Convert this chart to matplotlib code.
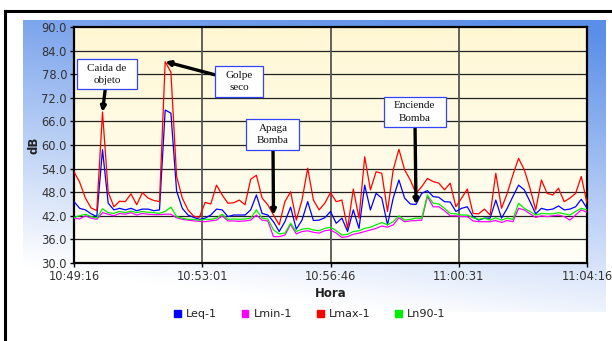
import numpy as np
import matplotlib.pyplot as plt
from matplotlib.path import Path
from matplotlib.patches import Patch
from matplotlib.lines import Line2D

plt.close('all')

# sample every 10 s from 10:49:16 to 11:04:16
t = np.arange(0, 910, 10)
tick_pos = [0, 225, 450, 675, 900]
tick_labels = ['10:49:16', '10:53:01', '10:56:46', '11:00:31', '11:04:16']

leq = [45.6, 43.9, 43.5, 42.5, 41.8, 58.8, 45.2, 43.5, 43.9, 43.5,
       43.9, 43.3, 43.7, 43.7, 43.3, 43.5, 68.9, 68.1, 48.3, 43.9,
       42.2, 41.6, 41.1, 41.4, 42.2, 43.7, 43.5, 41.8, 42.2, 42.2,
       42.2, 43.5, 47.3, 42.6, 42.2, 40.5, 38.0, 40.5, 44.2, 38.6,
       40.9, 45.6, 40.8, 40.9, 41.5, 43.1, 40.1, 41.4, 38.0, 43.5,
       38.8, 49.8, 43.5, 47.7, 46.5, 39.7, 46.5, 51.1, 46.5, 45.0,
       44.9, 47.7, 48.4, 46.9, 46.7, 45.6, 45.5, 43.1, 43.9, 44.3,
       41.8, 40.9, 41.4, 41.4, 46.0, 41.4, 43.9, 46.9, 49.8, 48.6,
       45.6, 42.5, 43.9, 43.5, 43.7, 44.5, 43.5, 43.7, 44.3, 46.2,
       43.9]
lmin = [41.4, 41.2, 42.0, 41.4, 41.1, 42.8, 42.4, 42.0, 42.6, 42.4,
        42.8, 42.2, 42.6, 42.4, 42.3, 42.3, 42.4, 42.4, 41.5, 41.1,
        40.9, 40.7, 40.6, 40.5, 40.7, 40.9, 42.0, 40.7, 40.7, 40.6,
        40.7, 40.9, 42.2, 40.9, 40.7, 36.7, 36.7, 37.1, 39.8, 37.4,
        38.0, 38.2, 37.8, 37.6, 38.2, 38.4, 37.6, 36.5, 36.7, 37.3,
        37.6, 38.0, 38.4, 38.8, 39.4, 39.1, 39.7, 41.5, 40.5, 40.7,
        40.8, 40.9, 46.9, 44.3, 44.3, 43.3, 42.0, 42.0, 41.8, 41.8,
        40.7, 40.5, 40.5, 40.5, 40.8, 40.3, 40.8, 40.5, 43.9, 43.5,
        42.5, 41.6, 42.0, 41.8, 42.0, 42.2, 41.8, 40.9, 42.2, 43.5,
        42.9]
lmax = [53.2, 50.5, 46.5, 44.0, 43.3, 68.4, 48.0, 44.3, 45.7, 45.6,
        47.6, 44.8, 47.9, 46.5, 45.9, 45.6, 81.2, 78.5, 52.0, 46.5,
        43.5, 41.9, 41.6, 45.4, 45.0, 49.8, 47.3, 45.2, 45.3, 46.0,
        44.8, 51.3, 52.3, 46.5, 44.8, 42.2, 39.7, 45.6, 48.1, 40.9,
        46.0, 54.1, 46.0, 43.5, 45.2, 47.9, 45.6, 46.0, 38.8, 48.8,
        41.4, 57.0, 48.6, 53.2, 52.8, 43.1, 53.7, 58.9, 53.7, 51.1,
        47.7, 49.4, 51.5, 50.7, 50.3, 48.6, 50.3, 44.3, 46.5, 48.8,
        42.6, 42.5, 43.7, 42.2, 52.8, 43.9, 47.7, 52.4, 56.6, 53.7,
        49.0, 43.5, 51.1, 47.7, 47.3, 49.0, 45.6, 46.5, 47.7, 52.0,
        45.2]
ln90 = [41.6, 42.0, 42.4, 41.8, 41.4, 43.8, 42.8, 42.6, 43.1, 42.8,
        43.2, 42.8, 43.1, 42.9, 42.8, 42.6, 43.1, 44.2, 41.8, 41.4,
        41.1, 41.1, 40.9, 41.1, 41.1, 41.4, 42.4, 41.1, 41.2, 41.1,
        41.2, 41.4, 43.5, 41.4, 41.2, 38.4, 37.4, 37.6, 40.1, 38.0,
        38.6, 38.8, 38.4, 38.2, 38.8, 39.1, 38.2, 37.1, 37.3, 38.0,
        38.2, 38.8, 39.1, 39.7, 40.3, 39.7, 40.5, 42.0, 40.9, 41.1,
        41.4, 41.4, 47.3, 45.2, 45.0, 43.9, 42.6, 42.5, 42.2, 42.2,
        41.5, 41.1, 41.4, 40.9, 41.5, 40.9, 41.4, 41.1, 45.2, 43.9,
        43.1, 42.2, 42.6, 42.5, 42.5, 42.8, 42.5, 42.2, 43.1, 43.9,
        43.5]

series_names = ['Leq-1', 'Lmin-1', 'Lmax-1', 'Ln90-1']
series_colors = ['#0000ff', '#ff00ff', '#ff0000', '#00ee00']

# notes: (text, series index, sample index, text position)
notes = [('Caida de\nobjeto', 2, 5, (58, 78.0)),
         ('Golpe\nseco', 2, 16, (290, 76.2)),
         ('Apaga\nBomba', 2, 35, (349, 62.7)),
         ('Enciende\nBomba', 0, 60, (598, 68.4))]

W, H = 612, 341
fig = plt.figure(figsize=(W / 100, H / 100), dpi=100)
fig.patch.set_facecolor('white')

# blue gradient panel behind the chart
bg = fig.add_axes([23 / W, 1 - 312 / H, 583 / W, 292 / H], zorder=0)
yy, xx = np.mgrid[0:1:200j, 0:1:200j]
w = np.clip(0.95 * yy + 0.25 * (1 - xx) - 0.05, 0, 1)[..., None]
blue = np.array([0.36, 0.56, 0.91])
bg.imshow(blue * (1 - w) + w, aspect='auto', extent=[0, 1, 0, 1])
bg.axis('off')

ax = fig.add_axes([74 / W, 1 - 263 / H, 513 / W, 236 / H], zorder=2)
grad = np.linspace(0, 1, 100)[:, None, None]
top = np.array([1.0, 0.97, 0.83])
bot = np.array([1.0, 1.0, 0.97])
ax.imshow(top * (1 - grad) + bot * grad, aspect='auto',
          extent=[0, 900, 30, 90], zorder=0)

data = [leq, lmin, lmax, ln90]
for vals, c in zip(data, series_colors):
    ax.plot(t, vals, color=c, lw=0.9, zorder=3)

ax.set_xlim(0, 900)
ax.set_ylim(30, 90)
ax.set_yticks(np.arange(30, 91, 6))
ax.set_yticklabels(['%.1f' % v for v in np.arange(30, 91, 6)])
ax.set_xticks(tick_pos)
ax.set_xticklabels(tick_labels)
for v in np.arange(36, 90, 6):
    ax.axhline(v, color='#222222', lw=0.9, zorder=1)
for p in tick_pos[1:-1]:
    ax.axvline(p, color='#555555', lw=1.3, zorder=1)
for s in ax.spines.values():
    s.set_linewidth(1.6)
    s.set_color('black')
ax.tick_params(labelsize=8.3, labelcolor='#333333', length=3, width=1, pad=2)
ax.set_xlabel('Hora', fontsize=8.5, fontweight='bold', color='#222222', labelpad=3)
ax.set_ylabel('dB', fontsize=8.5, fontweight='bold', color='#222222', labelpad=1)


def note_box(x0, y0, width, height, mutation_size):
    px = 0.95 * mutation_size
    py = 0.42 * mutation_size
    x0, y0 = x0 - px, y0 - py
    x1, y1 = x0 + width + 2 * px, y0 + height + 2 * py
    return Path([(x0, y0), (x1, y0), (x1, y1), (x0, y1), (x0, y0)], closed=True)


for text, si, ti, pos in notes:
    ax.annotate(text, xy=(t[ti], data[si][ti]), xytext=pos, textcoords='data',
                ha='center', va='center', fontsize=8, family='Liberation Serif',
                linespacing=1.45, color='#111111', zorder=5,
                bbox=dict(boxstyle=note_box, fc='white', ec='#3344ff', lw=0.9),
                arrowprops=dict(arrowstyle='-|>', color='black', lw=2.4,
                                mutation_scale=7, shrinkA=0, shrinkB=0))

handles = [Patch(color=c, label=n) for c, n in zip(series_colors, series_names)]
fig.legend(handles=handles, loc='center', bbox_to_anchor=(310 / W, 1 - 314 / H),
           ncol=4, frameon=False, fontsize=8, handlelength=0.6, handleheight=0.6,
           handletextpad=0.5, columnspacing=2.2, labelcolor='#222222')

# black frame around the slide area
fig.add_artist(Line2D([5 / W, 5 / W], [0, 1 - 11 / H], color='black', lw=2.2,
                      transform=fig.transFigure))
fig.add_artist(Line2D([5 / W, 1], [1 - 11 / H, 1 - 11 / H], color='black', lw=2.2,
                      transform=fig.transFigure))

fig.savefig('out.png', dpi=100)
